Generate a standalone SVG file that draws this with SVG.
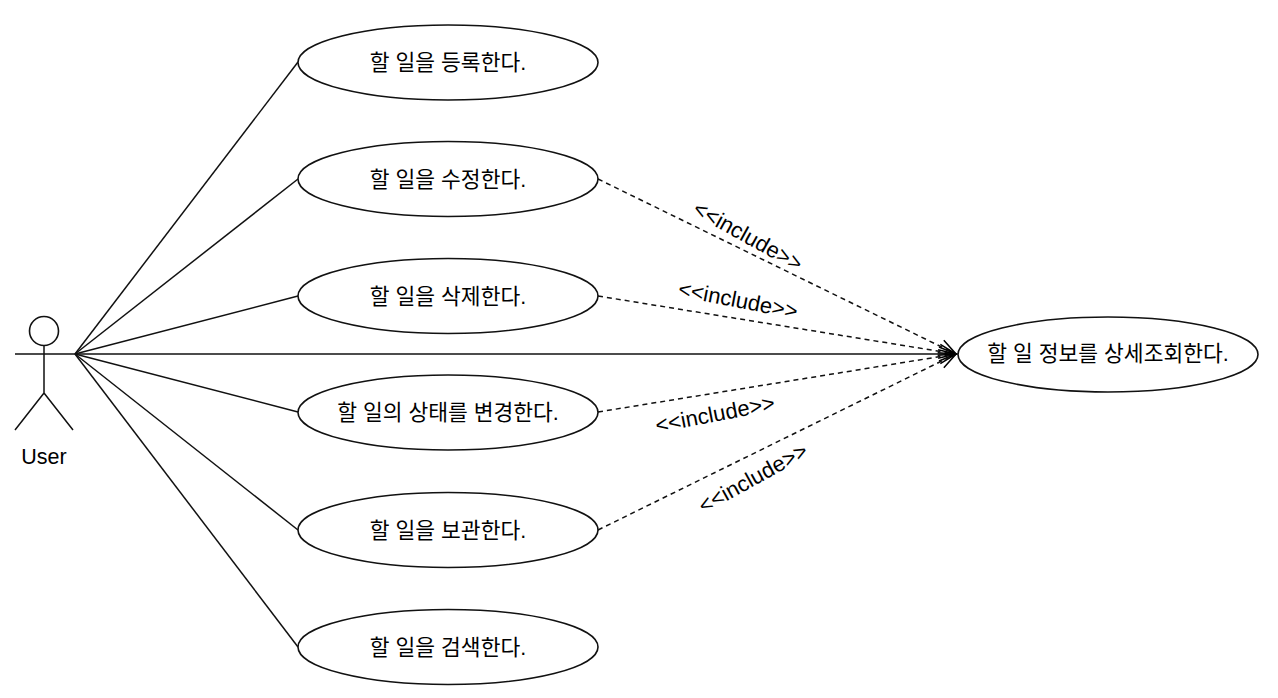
<svg xmlns="http://www.w3.org/2000/svg" width="1278" height="698" viewBox="0 0 1278 698">
<style>
text{font-family:"Liberation Sans","Noto Sans CJK KR",sans-serif;fill:#000;text-anchor:middle;dominant-baseline:central}
.n{font-size:21.500px}
.l{font-size:22px}
ellipse,circle{fill:#fff;stroke:#111;stroke-width:1.6}
.c{fill:none;stroke:#111;stroke-width:1.5}
.d{stroke-dasharray:5 4}
</style>
<defs><marker id="a" markerWidth="20" markerHeight="16" refX="18" refY="8" orient="auto" markerUnits="userSpaceOnUse"><path d="M1 1L18 8L1 15" fill="none" stroke="#000" stroke-width="1.5"/></marker></defs>
<g id="connectors">
<path class="c" d="M75 354L298 62"/>
<path class="c" d="M75 354L298 179"/>
<path class="c" d="M75 354L298 296"/>
<path class="c" d="M75 354L298 412"/>
<path class="c" d="M75 354L298 530"/>
<path class="c" d="M75 354L298 647"/>
<path class="c" d="M75 354L956 354" marker-end="url(#a)"/>
<path class="c d" d="M598 179L956 354" marker-end="url(#a)"/>
<path class="c d" d="M598 296L956 354" marker-end="url(#a)"/>
<path class="c d" d="M598 412L956 354" marker-end="url(#a)"/>
<path class="c d" d="M598 530L956 354" marker-end="url(#a)"/>
<text class="l" transform="translate(748 236) rotate(29)">&lt;&lt;include&gt;&gt;</text>
<text class="l" transform="translate(738 300) rotate(11)">&lt;&lt;include&gt;&gt;</text>
<text class="l" transform="translate(715 414) rotate(-11)">&lt;&lt;include&gt;&gt;</text>
<text class="l" transform="translate(753 478) rotate(-29)">&lt;&lt;include&gt;&gt;</text>
</g>
<g id="user">
<circle cx="44" cy="331" r="14.500"/>
<path class="c" d="M44 346V393M15 354H75M44 393L15 430M44 393L73 430"/>
<text class="n" x="44" y="457">User</text>
</g>
<g id="uc1"><ellipse cx="448" cy="62.500" rx="150" ry="37.500"/><text class="n" x="448" y="63">할 일을 등록한다.</text></g>
<g id="uc2"><ellipse cx="448" cy="179" rx="150" ry="37.500"/><text class="n" x="448" y="180">할 일을 수정한다.</text></g>
<g id="uc3"><ellipse cx="448" cy="296" rx="150" ry="37.500"/><text class="n" x="448" y="297">할 일을 삭제한다.</text></g>
<g id="uc4"><ellipse cx="448" cy="412.500" rx="150" ry="37.500"/><text class="n" x="448" y="413">할 일의 상태를 변경한다.</text></g>
<g id="uc5"><ellipse cx="448" cy="530" rx="150" ry="37.500"/><text class="n" x="448" y="531">할 일을 보관한다.</text></g>
<g id="uc6"><ellipse cx="448" cy="647" rx="150" ry="37.500"/><text class="n" x="448" y="648">할 일을 검색한다.</text></g>
<g id="uc7"><ellipse cx="1108" cy="354.500" rx="150" ry="37.500"/><text class="n" x="1108" y="354">할 일 정보를 상세조회한다.</text></g>
</svg>
